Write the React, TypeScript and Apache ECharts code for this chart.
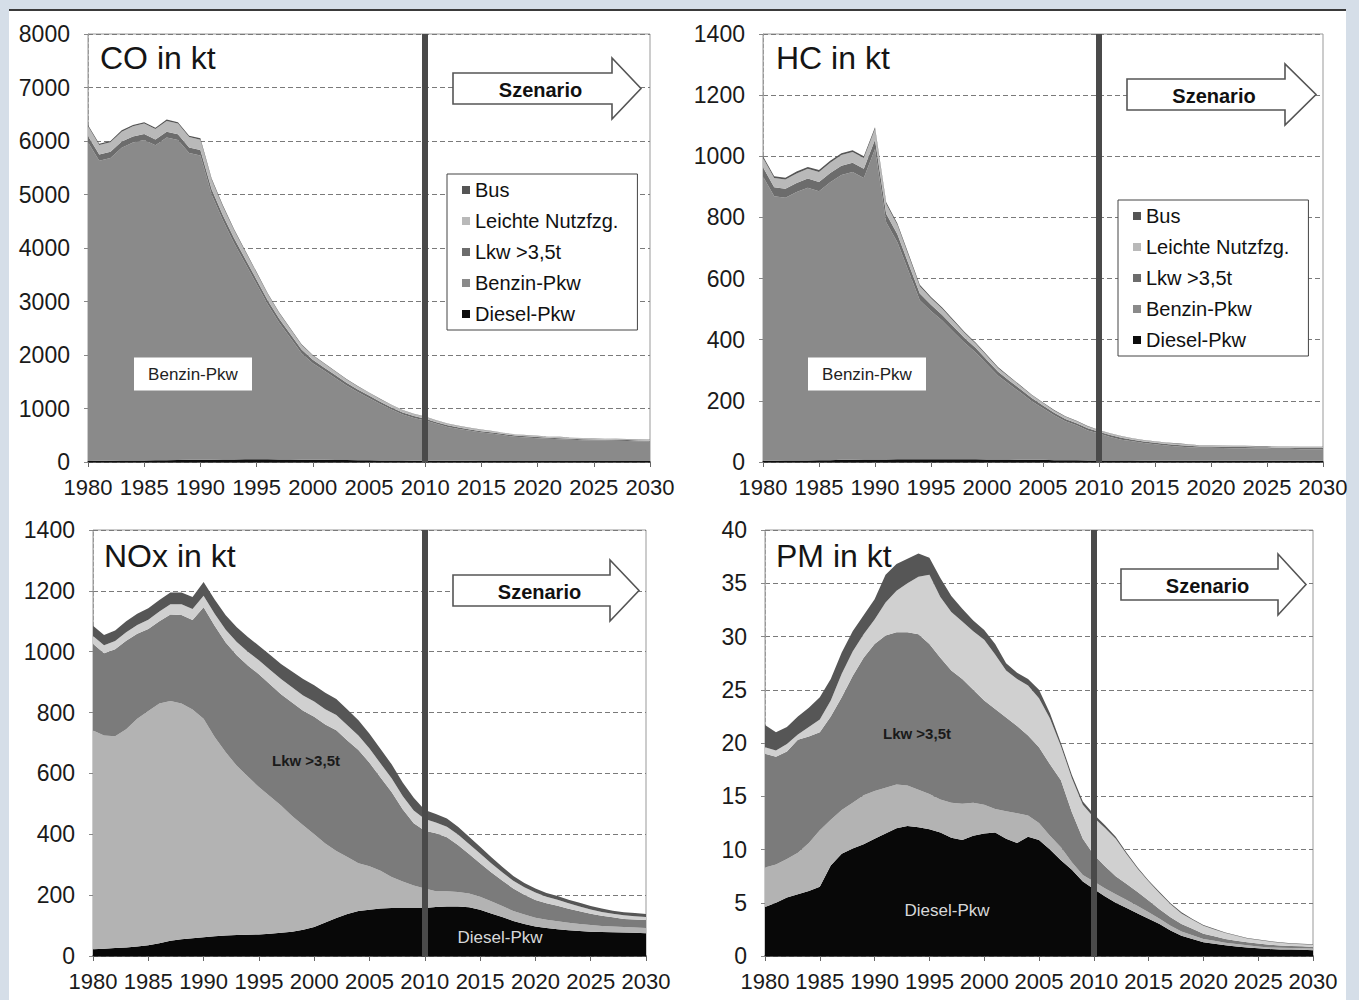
import React, { useEffect, useRef } from "react";
import * as echarts from "echarts";

const FONT = "'Liberation Sans', Arial, Helvetica, sans-serif";

const years = [
  "1980", "1981", "1982", "1983", "1984", "1985", "1986", "1987", "1988", "1989",
  "1990", "1991", "1992", "1993", "1994", "1995", "1996", "1997", "1998", "1999",
  "2000", "2001", "2002", "2003", "2004", "2005", "2006", "2007", "2008", "2009",
  "2010", "2011", "2012", "2013", "2014", "2015", "2016", "2017", "2018", "2019",
  "2020", "2021", "2022", "2023", "2024", "2025", "2026", "2027", "2028", "2029", "2030",
];

const seriesNames = ["Diesel-Pkw", "Benzin-Pkw", "Lkw >3,5t", "Leichte Nutzfzg.", "Bus"];
const legendOrder = ["Bus", "Leichte Nutzfzg.", "Lkw >3,5t", "Benzin-Pkw", "Diesel-Pkw"];
const panelTitles = ["CO in kt", "HC in kt", "NOx in kt", "PM in kt"];
const yMax = [8000, 1400, 1400, 40];
const yStep = [1000, 200, 200, 5];
const scenarioYear = "2010";

// CO in kt
const coDiesel = [20, 22, 24, 26, 28, 30, 32, 35, 38, 40, 42, 44, 46, 48, 50, 50, 50, 48, 46, 44, 42, 40, 38, 36, 34, 32, 30, 28, 26, 25,
  24, 23, 23, 22, 22, 21, 21, 20, 20, 20, 20, 19, 19, 19, 19, 18, 18, 18, 18, 18, 18];
const coBenzin = [5955, 5610, 5657, 5849, 5943, 5988, 5888, 6032, 5981, 5736, 5686, 4954, 4473, 4042, 3658, 3276, 2893, 2560, 2276, 1991, 1806, 1669, 1531, 1392, 1273, 1163, 1053, 952, 861, 797,
  752, 690, 633, 595, 560, 530, 505, 478, 451, 437, 424, 415, 407, 398, 389, 385, 382, 378, 374, 370, 365];
const coLkw = [120, 118, 116, 115, 114, 112, 110, 108, 106, 104, 102, 98, 94, 90, 86, 82, 78, 74, 70, 66, 62, 58, 55, 52, 49, 46, 43, 40, 38, 36,
  34, 32, 30, 28, 27, 26, 25, 24, 23, 22, 21, 20, 20, 19, 19, 18, 18, 17, 17, 16, 16];
const coLeichte = [180, 175, 178, 185, 190, 195, 195, 200, 200, 195, 195, 180, 165, 150, 138, 126, 115, 105, 96, 88, 80, 74, 68, 62, 57, 52, 48, 44, 40, 37,
  35, 32, 30, 28, 27, 26, 25, 24, 23, 22, 22, 21, 21, 20, 20, 19, 19, 18, 18, 18, 18];
const coBus = [25, 25, 25, 25, 25, 25, 25, 25, 25, 25, 25, 24, 22, 20, 18, 16, 14, 13, 12, 11, 10, 9, 8, 8, 7, 7, 6, 6, 5, 5,
  5, 5, 4, 4, 4, 4, 4, 3, 3, 3, 3, 3, 3, 3, 3, 3, 3, 3, 3, 3, 3];

// HC in kt
const hcDiesel = [4, 4, 5, 5, 5, 6, 6, 7, 7, 8, 8, 8, 9, 9, 9, 9, 9, 9, 9, 9, 8, 8, 8, 7, 7, 7, 6, 6, 6, 5,
  5, 5, 5, 5, 4, 4, 4, 4, 4, 4, 4, 4, 4, 4, 4, 4, 4, 4, 4, 4, 4];
const hcBenzin = [930, 865, 859, 878, 892, 880, 909, 932, 942, 921, 1016, 776, 710, 615, 520, 485, 454, 417, 381, 349, 312, 274, 246, 220, 192, 169, 147, 127, 114, 98,
  88, 77, 68, 63, 58, 54, 50, 47, 44, 43, 43, 42, 41, 41, 40, 40, 39, 39, 38, 38, 38];
const hcLkw = [30, 30, 30, 30, 30, 30, 30, 30, 30, 30, 30, 28, 26, 24, 22, 20, 18, 17, 16, 15, 14, 13, 12, 11, 10, 9, 8, 8, 7, 7,
  6, 6, 6, 5, 5, 5, 5, 5, 5, 4, 4, 4, 4, 4, 4, 4, 4, 4, 4, 4, 4];
const hcLeichte = [30, 30, 30, 31, 32, 33, 34, 35, 35, 35, 35, 32, 30, 27, 24, 22, 20, 18, 16, 14, 13, 12, 11, 10, 9, 8, 7, 7, 6, 6,
  5, 5, 5, 4, 4, 4, 4, 4, 4, 3, 3, 3, 3, 3, 3, 3, 3, 3, 3, 3, 3];
const hcBus = [6, 6, 6, 6, 6, 6, 6, 6, 6, 6, 6, 6, 5, 5, 5, 4, 4, 4, 3, 3, 3, 3, 3, 2, 2, 2, 2, 2, 2, 2,
  1, 1, 1, 1, 1, 1, 1, 1, 1, 1, 1, 1, 1, 1, 1, 1, 1, 1, 1, 1, 1];

// NOx in kt
const noxDiesel = [22, 24, 26, 28, 31, 35, 42, 50, 55, 58, 62, 65, 67, 69, 70, 71, 73, 76, 80, 86, 95, 110, 125, 138, 148, 152, 156, 158, 158, 158,
  158, 161, 163, 163, 160, 152, 140, 128, 115, 105, 97, 92, 88, 85, 82, 80, 79, 78, 77, 76, 75];
const noxBenzin = [719, 701, 696, 717, 749, 770, 788, 788, 775, 752, 718, 655, 603, 556, 520, 484, 452, 419, 380, 344, 305, 260, 220, 187, 157, 143, 124, 102, 87, 74,
  64, 52, 50, 47, 45, 43, 40, 36, 33, 31, 29, 27, 26, 24, 23, 22, 20, 19, 18, 18, 17];
const noxLkw = [285, 270, 286, 291, 279, 270, 270, 284, 291, 294, 366, 365, 360, 363, 365, 371, 368, 365, 373, 376, 386, 391, 397, 383, 372, 340, 307, 279, 237, 204,
  190, 190, 177, 155, 130, 110, 95, 84, 74, 65, 58, 54, 51, 46, 42, 37, 33, 30, 27, 26, 26];
const noxLeichte = [26, 26, 27, 28, 29, 30, 32, 34, 35, 36, 38, 40, 42, 44, 45, 46, 48, 50, 50, 50, 50, 50, 50, 50, 48, 47, 46, 45, 44, 42,
  38, 36, 35, 34, 33, 32, 30, 27, 25, 25, 25, 22, 20, 18, 16, 14, 13, 12, 12, 11, 10];
const noxBus = [33, 34, 35, 36, 37, 38, 38, 39, 39, 40, 45, 47, 48, 48, 48, 48, 49, 50, 52, 54, 54, 54, 53, 52, 50, 48, 47, 46, 44, 42,
  30, 28, 27, 26, 24, 22, 20, 18, 16, 14, 13, 12, 12, 12, 12, 11, 11, 10, 10, 10, 10];

// PM in kt
const pmDiesel = [4.6, 5.0, 5.5, 5.8, 6.1, 6.5, 8.5, 9.6, 10.1, 10.5, 11.0, 11.5, 12.0, 12.2, 12.1, 11.9, 11.6, 11.1, 10.9, 11.3, 11.5, 11.6, 11.0, 10.6, 11.2, 10.9, 10.0, 9.0, 8.1, 7.0,
  6.3, 5.6, 5.0, 4.5, 4.0, 3.5, 3.0, 2.4, 1.9, 1.6, 1.3, 1.15, 1.0, 0.9, 0.8, 0.72, 0.65, 0.62, 0.6, 0.58, 0.55];
const pmBenzin = [3.7, 3.6, 3.6, 3.9, 4.5, 5.3, 4.3, 4.1, 4.3, 4.6, 4.5, 4.3, 4.1, 3.8, 3.5, 3.3, 3.1, 3.3, 3.4, 3.1, 2.7, 2.2, 2.6, 2.8, 2.0, 1.6, 1.3, 1.2, 0.7, 0.6,
  0.7, 0.75, 0.8, 0.75, 0.7, 0.6, 0.5, 0.45, 0.4, 0.35, 0.3, 0.28, 0.25, 0.22, 0.2, 0.18, 0.15, 0.15, 0.15, 0.15, 0.15];
const pmLkw = [10.7, 10.1, 10.1, 10.6, 10.0, 9.2, 9.7, 10.6, 11.9, 12.9, 13.8, 14.3, 14.3, 14.4, 14.6, 14.1, 13.3, 12.4, 11.7, 10.6, 9.8, 9.4, 8.8, 8.2, 7.5, 7.1, 6.7, 6.3, 4.7, 3.4,
  2.5, 2.1, 1.7, 1.5, 1.3, 1.1, 0.9, 0.8, 0.7, 0.6, 0.5, 0.42, 0.35, 0.32, 0.3, 0.28, 0.25, 0.22, 0.2, 0.18, 0.15];
const pmLeichte = [0.6, 0.6, 0.7, 0.5, 0.9, 1.2, 1.5, 2.2, 2.3, 2.2, 2.3, 3.1, 3.9, 4.6, 5.4, 6.5, 5.7, 5.5, 5.4, 5.5, 5.7, 5.1, 4.4, 4.4, 4.7, 4.6, 4.3, 3.2, 3.2, 3.2,
  3.5, 3.6, 3.5, 2.8, 2.2, 1.8, 1.5, 1.2, 1.0, 0.85, 0.75, 0.65, 0.55, 0.45, 0.35, 0.32, 0.3, 0.25, 0.2, 0.2, 0.2];
const pmBus = [2.1, 1.7, 1.6, 1.7, 1.8, 2.1, 2.0, 2.0, 1.9, 1.8, 1.9, 2.6, 2.5, 2.3, 2.2, 1.6, 1.8, 1.5, 1.2, 1.0, 0.9, 1.0, 0.7, 0.6, 0.6, 0.8, 0.5, 0.3, 0.3, 0.3,
  0.3, 0.25, 0.2, 0.15, 0.1, 0.1, 0.1, 0.1, 0.1, 0.08, 0.05, 0.05, 0.05, 0.05, 0.05, 0.05, 0.05, 0.05, 0.05, 0.05, 0.05];

const panelData = [
  [coDiesel, coBenzin, coLkw, coLeichte, coBus],
  [hcDiesel, hcBenzin, hcLkw, hcLeichte, hcBus],
  [noxDiesel, noxBenzin, noxLkw, noxLeichte, noxBus],
  [pmDiesel, pmBenzin, pmLkw, pmLeichte, pmBus],
];

// layout + styling (not data)
const grids = [
  { left: 88, top: 34, width: 562, height: 428 },
  { left: 763, top: 34, width: 560, height: 428 },
  { left: 93, top: 530, width: 553, height: 426 },
  { left: 765, top: 530, width: 548, height: 426 },
];
const darkPalette = ["#0d0d0d", "#8a8a8a", "#6c6c6c", "#b9b9b9", "#555555"];
const lightPalette = ["#080808", "#b3b3b3", "#7b7b7b", "#d0d0d0", "#565656"];
const palettes = [darkPalette, darkPalette, lightPalette, lightPalette];
const titlePos = [
  { left: 100, top: 42 },
  { left: 776, top: 42 },
  { left: 104, top: 540 },
  { left: 776, top: 540 },
];
const arrows = [
  { x: 453, y: 73, bx: 612, tip: 641, h: 31, wing: 15 },
  { x: 1127, y: 79, bx: 1285, tip: 1316, h: 31, wing: 15 },
  { x: 453, y: 575, bx: 610, tip: 639, h: 31, wing: 15 },
  { x: 1121, y: 569, bx: 1278, tip: 1306, h: 31, wing: 15 },
];

function arrowGraphic(a: any) {
  const top = a.y;
  const bot = a.y + a.h;
  const mid = a.y + a.h / 2;
  return [
    {
      type: "polygon",
      z: 100,
      shape: {
        points: [
          [a.x, top],
          [a.bx, top],
          [a.bx, top - a.wing],
          [a.tip, mid],
          [a.bx, bot + a.wing],
          [a.bx, bot],
          [a.x, bot],
        ],
      },
      style: { fill: "#ffffff", stroke: "#555555", lineWidth: 1.6 },
    },
    {
      type: "text",
      z: 101,
      style: {
        text: "Szenario",
        x: (a.x + a.bx) / 2 + 8,
        y: mid + 1,
        textAlign: "center",
        textVerticalAlign: "middle",
        font: `bold 20px ${FONT}`,
        fill: "#111111",
      },
    },
  ];
}

function boxLabel(cx: number, cy: number, w: number, h: number, text: string) {
  return [
    {
      type: "rect",
      z: 100,
      shape: { x: cx - w / 2, y: cy - h / 2, width: w, height: h },
      style: { fill: "#ffffff" },
    },
    {
      type: "text",
      z: 101,
      style: {
        text,
        x: cx,
        y: cy,
        textAlign: "center",
        textVerticalAlign: "middle",
        font: `17px ${FONT}`,
        fill: "#222222",
      },
    },
  ];
}

function plainLabel(cx: number, cy: number, text: string, fill: string, size: number, weight = "normal") {
  return {
    type: "text",
    z: 101,
    style: {
      text,
      x: cx,
      y: cy,
      textAlign: "center",
      textVerticalAlign: "middle",
      font: `${weight} ${size}px ${FONT}`,
      fill,
    },
  };
}

export default function App() {
  const ref = useRef<HTMLDivElement>(null);

  useEffect(() => {
    document.body.style.margin = "0";
    if (!ref.current) return;
    const chart = echarts.init(ref.current, undefined, { renderer: "svg" });

    const series: any[] = [];
    panelData.forEach((pdata, pi) => {
      seriesNames.forEach((name, si) => {
        const s: any = {
          type: "line",
          name,
          xAxisIndex: pi,
          yAxisIndex: pi,
          stack: "panel" + pi,
          symbol: "none",
          showSymbol: false,
          lineStyle: { width: 0 },
          itemStyle: { color: palettes[pi][si] },
          areaStyle: { color: palettes[pi][si], opacity: 1 },
          data: pdata[si],
          z: 2,
        };
        if (si === seriesNames.length - 1) {
          s.markLine = {
            silent: true,
            symbol: ["none", "none"],
            label: { show: false },
            lineStyle: { color: "#4a4a4a", width: 6, type: "solid" },
            data: [{ xAxis: scenarioYear }],
            z: 5,
          };
        }
        series.push(s);
      });
    });

    const xAxis = grids.map((_, i) => ({
      type: "category",
      gridIndex: i,
      data: years,
      boundaryGap: false,
      axisLabel: {
        interval: 4,
        fontSize: 22,
        fontFamily: FONT,
        color: "#1a1a1a",
        margin: 14,
      },
      axisLine: { show: true, lineStyle: { color: "#333333", width: 1.5 } },
      axisTick: { show: true, interval: 4, length: 5, lineStyle: { color: "#666666" } },
      splitLine: { show: false },
    }));

    const yAxis = grids.map((_, i) => ({
      type: "value",
      gridIndex: i,
      min: 0,
      max: yMax[i],
      interval: yStep[i],
      axisLabel: {
        formatter: (v: number) => String(v),
        fontSize: 23,
        fontFamily: FONT,
        color: "#1a1a1a",
        margin: 18,
      },
      axisLine: { show: true, lineStyle: { color: "#999999", type: "dashed" } },
      axisTick: { show: true, length: 4, lineStyle: { color: "#888888" } },
      splitLine: { show: true, lineStyle: { color: "#7a7a7a", type: [5, 3], width: 1 } },
    }));

    const legendBase = {
      orient: "vertical",
      data: legendOrder,
      icon: "rect",
      itemWidth: 8,
      itemHeight: 8,
      itemGap: 11,
      selectedMode: false,
      backgroundColor: "#ffffff",
      borderColor: "#444444",
      borderWidth: 1,
      padding: [6, 19, 6, 15],
      textStyle: { fontSize: 20, fontFamily: FONT, color: "#111111" },
      z: 50,
    };

    const graphic: any[] = [
      { type: "rect", z: -100, shape: { x: 0, y: 0, width: 1359, height: 1000 }, style: { fill: "#d5dee8" } },
      { type: "rect", z: -99, shape: { x: 9, y: 11, width: 1337, height: 989 }, style: { fill: "#ffffff" } },
      { type: "rect", z: -98, shape: { x: 9, y: 9, width: 1337, height: 2 }, style: { fill: "#3a3a3a" } },
    ];
    arrows.forEach((a) => graphic.push(...arrowGraphic(a)));
    graphic.push(...boxLabel(193, 374, 118, 33, "Benzin-Pkw"));
    graphic.push(...boxLabel(867, 374, 118, 33, "Benzin-Pkw"));
    graphic.push(plainLabel(306, 760, "Lkw >3,5t", "#1a1a1a", 15, "bold"));
    graphic.push(plainLabel(917, 733, "Lkw >3,5t", "#1a1a1a", 15, "bold"));
    graphic.push(plainLabel(500, 937, "Diesel-Pkw", "#d8d8d8", 17));
    graphic.push(plainLabel(947, 910, "Diesel-Pkw", "#d8d8d8", 17));

    const option: any = {
      animation: false,
      backgroundColor: "transparent",
      textStyle: { fontFamily: FONT },
      title: panelTitles.map((t, i) => ({
        text: t,
        left: titlePos[i].left,
        top: titlePos[i].top,
        padding: 0,
        textStyle: { fontSize: 32, fontWeight: "normal", fontFamily: FONT, color: "#151515" },
        z: 60,
      })),
      legend: [
        { ...legendBase, left: 447, top: 174 },
        { ...legendBase, left: 1118, top: 200 },
      ],
      grid: grids.map((g) => ({
        ...g,
        show: true,
        borderColor: "#999999",
        borderWidth: 1,
        backgroundColor: "transparent",
        containLabel: false,
      })),
      xAxis,
      yAxis,
      series,
      graphic,
    };

    chart.setOption(option);
    return () => chart.dispose();
  }, []);

  return <div ref={ref} style={{ width: 1359, height: 1000 }} />;
}
